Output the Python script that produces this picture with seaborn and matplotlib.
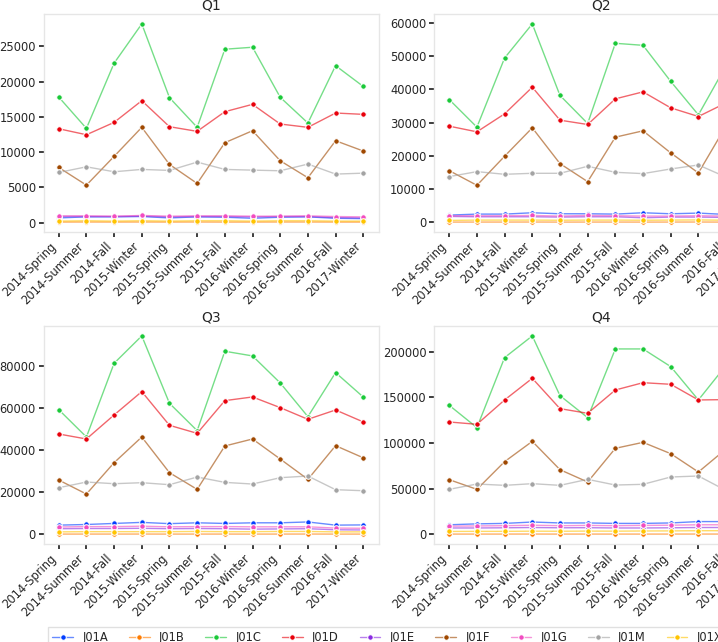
import matplotlib
matplotlib.use('Agg')
import matplotlib.pyplot as plt
import pandas as pd
import seaborn as sns
from matplotlib.colors import to_rgba

periods = ['2014-Spring', '2014-Summer', '2014-Fall', '2015-Winter',
           '2015-Spring', '2015-Summer', '2015-Fall', '2016-Winter',
           '2016-Spring', '2016-Summer', '2016-Fall', '2017-Winter']
drugs = ['J01A', 'J01B', 'J01C', 'J01D', 'J01E', 'J01F', 'J01G', 'J01M', 'J01X']

q1 = {
    'J01A': [650, 800, 800, 850, 650, 800, 750, 600, 750, 800, 600, 550],
    'J01B': [60, 70, 60, 70, 60, 70, 60, 60, 70, 70, 60, 60],
    'J01C': [17800, 13350, 22600, 28170, 17710, 13500, 24580, 24860, 17760, 14110, 22250, 19300],
    'J01D': [13300, 12450, 14200, 17280, 13590, 12930, 15720, 16760, 13970, 13500, 15530, 15340],
    'J01E': [850, 850, 850, 900, 800, 850, 850, 800, 850, 850, 700, 650],
    'J01F': [7810, 5300, 9380, 13500, 8240, 5540, 11320, 13020, 8760, 6350, 11600, 10140],
    'J01G': [950, 950, 900, 1000, 900, 950, 950, 900, 900, 950, 850, 800],
    'J01M': [7100, 7900, 7200, 7530, 7390, 8570, 7530, 7430, 7340, 8290, 6870, 7000],
    'J01X': [200, 250, 200, 250, 200, 250, 250, 200, 250, 250, 200, 200],
}
q2 = {
    'J01A': [2200, 2500, 2500, 2900, 2600, 2600, 2500, 2900, 2600, 2800, 2400, 2300],
    'J01B': [100, 110, 110, 120, 100, 110, 110, 100, 110, 120, 100, 100],
    'J01C': [36900, 28600, 49360, 59600, 38130, 29700, 53780, 53170, 42340, 32300, 47100, 41000],
    'J01D': [28900, 27200, 32600, 40600, 30700, 29400, 37100, 39200, 34400, 31800, 35900, 34500],
    'J01E': [1800, 1700, 1700, 1700, 1600, 1700, 1700, 1400, 1600, 1600, 1500, 1400],
    'J01F': [15550, 11140, 19870, 28400, 17660, 12240, 25600, 27500, 20870, 14850, 29000, 24000],
    'J01G': [2000, 2000, 2000, 2100, 1900, 2100, 2000, 1900, 1900, 2000, 1900, 1800],
    'J01M': [13750, 15250, 14450, 14750, 14750, 16850, 15050, 14650, 16050, 17250, 13600, 13800],
    'J01X': [600, 700, 700, 700, 650, 700, 700, 650, 700, 750, 650, 650],
}
q3 = {
    'J01A': [4400, 4700, 5200, 5700, 5100, 5500, 5200, 5500, 5500, 5900, 4400, 4500],
    'J01B': [150, 160, 160, 170, 150, 160, 160, 150, 160, 170, 150, 150],
    'J01C': [59130, 46160, 81100, 94070, 62130, 49170, 86800, 84580, 71780, 55810, 76680, 65100],
    'J01D': [47590, 45220, 56600, 67670, 51700, 47900, 63400, 65140, 60080, 54550, 58970, 53300],
    'J01E': [2700, 2800, 2800, 2900, 2700, 2800, 2700, 2500, 2600, 2700, 2200, 2100],
    'J01F': [25770, 19130, 33990, 46160, 29250, 21340, 41900, 45220, 35730, 26090, 42050, 36300],
    'J01G': [3500, 3700, 3700, 3900, 3600, 3700, 3700, 3600, 3600, 3600, 3000, 2900],
    'J01M': [22130, 24820, 24030, 24500, 23560, 27190, 24660, 23870, 26880, 27670, 21190, 20700],
    'J01X': [1200, 1300, 1300, 1300, 1300, 1400, 1300, 1300, 1400, 1400, 1200, 1200],
}
q4 = {
    'J01A': [10500, 11500, 12000, 13500, 12500, 12500, 12000, 12000, 12500, 14000, 14000, 11000],
    'J01B': [300, 320, 320, 350, 300, 320, 320, 300, 320, 350, 330, 300],
    'J01C': [141250, 116800, 193450, 217200, 151840, 127750, 202940, 202940, 183600, 147100, 185000, 168000],
    'J01D': [123000, 120450, 147100, 170800, 137600, 132500, 158000, 166000, 164250, 147100, 147500, 144000],
    'J01E': [7000, 7000, 7200, 7500, 7200, 7300, 7000, 7000, 7200, 7500, 7500, 6500],
    'J01F': [59860, 49280, 79570, 101800, 70800, 57300, 94170, 100700, 88330, 68250, 93500, 82000],
    'J01G': [9000, 9200, 9500, 10000, 9500, 9800, 9500, 9800, 10000, 10500, 10500, 9000],
    'J01M': [49280, 55100, 53650, 55480, 53650, 60200, 54000, 54750, 62780, 63880, 48000, 47000],
    'J01X': [3200, 3300, 3300, 3500, 3400, 3600, 3500, 3700, 3800, 4000, 4000, 3500],
}
quarters = {'Q1': q1, 'Q2': q2, 'Q3': q3, 'Q4': q4}

rows = []
for q, d in quarters.items():
    for drug in drugs:
        for p, v in zip(periods, d[drug]):
            rows.append((q, drug, p, v))
df = pd.DataFrame(rows, columns=['quarter', 'drug', 'period', 'ddd'])

sns.set_theme(style='white', palette='bright')
plt.rcParams.update({
    'font.family': ['DejaVu Sans'],
    'axes.edgecolor': '.9',
    'axes.linewidth': 1.0,
    'xtick.bottom': True,
    'ytick.left': True,
    'xtick.color': '.15',
    'ytick.color': '.15',
    'xtick.major.size': 3.5,
    'ytick.major.size': 3.5,
    'xtick.labelsize': 8.3,
    'ytick.labelsize': 8.3,
})

W, H = 718, 642
fig = plt.figure(figsize=(W / 100, H / 100), dpi=100)
aw, ah = 335 / W, 218 / H
pos = {
    'Q1': [43.5 / W, 1 - 232 / H, aw, ah],
    'Q2': [434 / W, 1 - 232 / H, aw, ah],
    'Q3': [43.5 / W, 1 - 544 / H, aw, ah],
    'Q4': [434 / W, 1 - 544 / H, aw, ah],
}

handles = None
for q in quarters:
    ax = fig.add_axes(pos[q])
    sns.lineplot(data=df[df.quarter == q], x='period', y='ddd', hue='drug',
                 hue_order=drugs, marker='o', markersize=4, linewidth=1,
                 sort=False, legend=False, ax=ax)
    # pale lines, solid markers
    for line in ax.lines:
        c = line.get_color()
        line.set_markerfacecolor(c)
        line.set_color(to_rgba(c, 0.6))
    ax.set_title(q, fontsize=10, pad=3)
    ax.set_xlabel('')
    ax.set_ylabel('')
    ax.tick_params(axis='x', rotation=45, pad=2)
    ax.tick_params(axis='y', pad=2)
    for lab in ax.get_xticklabels():
        lab.set_ha('right')
    if handles is None:
        handles = list(ax.lines)

fig.legend(handles=handles, labels=drugs, ncol=9, loc='upper left',
           bbox_to_anchor=(42 / W, 1 - 621 / H), fontsize=8.3,
           handlelength=1.8, columnspacing=1.8, handletextpad=0.8,
           frameon=True, fancybox=False, edgecolor='.85')

plt.savefig('out.png', dpi=100)
